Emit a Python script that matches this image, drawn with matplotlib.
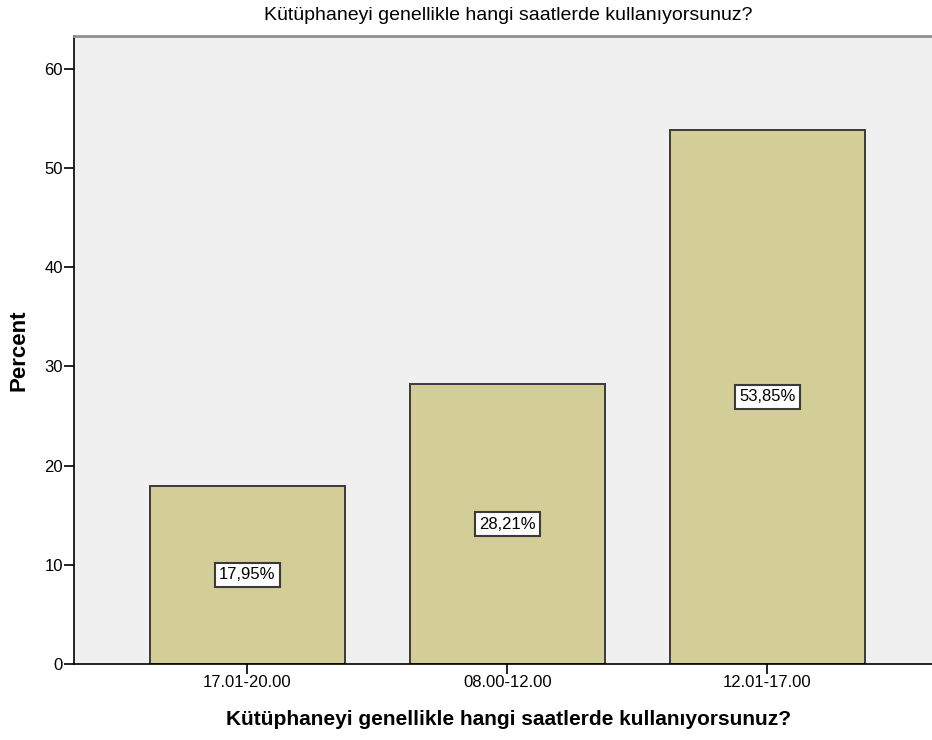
import numpy as np
import matplotlib.pyplot as plt

plt.rcParams['font.family'] = ['Liberation Sans', 'DejaVu Sans']

# Data
categories = ['17.01-20.00', '08.00-12.00', '12.01-17.00']
percents = [17.95, 28.21, 53.85]
bar_labels = ['17,95%', '28,21%', '53,85%']
title = 'Kütüphaneyi genellikle hangi saatlerde kullanıyorsunuz?'

fig = plt.figure(figsize=(9.32, 7.4), dpi=100)
ax = fig.add_axes([0.0794, 0.1027, 0.9206, 0.8487])
ax.set_facecolor('#f0f0f0')

x = np.arange(len(categories))
ax.bar(x, percents, width=0.75, color='#d3ce97', edgecolor='#3a3a3a', linewidth=1.4, zorder=2)

# value boxes in the middle of each bar
for xi, v, lab in zip(x, percents, bar_labels):
	ax.text(xi, v / 2, lab, ha='center', va='center', fontsize=12, zorder=3,
			bbox=dict(boxstyle='square,pad=0.27', facecolor='white', edgecolor='#3a3a3a', linewidth=1.5))

ax.set_xlim(-0.667, 2.633)
ax.set_ylim(0, 63.3)
ax.set_yticks([0, 10, 20, 30, 40, 50, 60])
ax.set_xticks(x)
ax.set_xticklabels(categories)
ax.tick_params(axis='both', direction='out', length=7, width=1.2, labelsize=12, colors='black', pad=1)

ax.spines['right'].set_visible(False)
ax.spines['top'].set_color('#909090')
ax.spines['top'].set_linewidth(2)
ax.spines['left'].set_color('black')
ax.spines['bottom'].set_color('black')
ax.spines['left'].set_linewidth(1.2)
ax.spines['bottom'].set_linewidth(1.2)

ax.set_xlabel(title, fontsize=15, fontweight='bold')
ax.xaxis.set_label_coords(0.506, -0.0876)
ax.xaxis.label.set_va('center')
ax.set_ylabel('Percent', fontsize=16, fontweight='bold')
ax.yaxis.set_label_coords(-0.064, 0.5)
ax.yaxis.label.set_va('center')

fig.text(0.545, 0.979, title, ha='center', va='center', fontsize=14)

fig.savefig('out.png', dpi=100)
